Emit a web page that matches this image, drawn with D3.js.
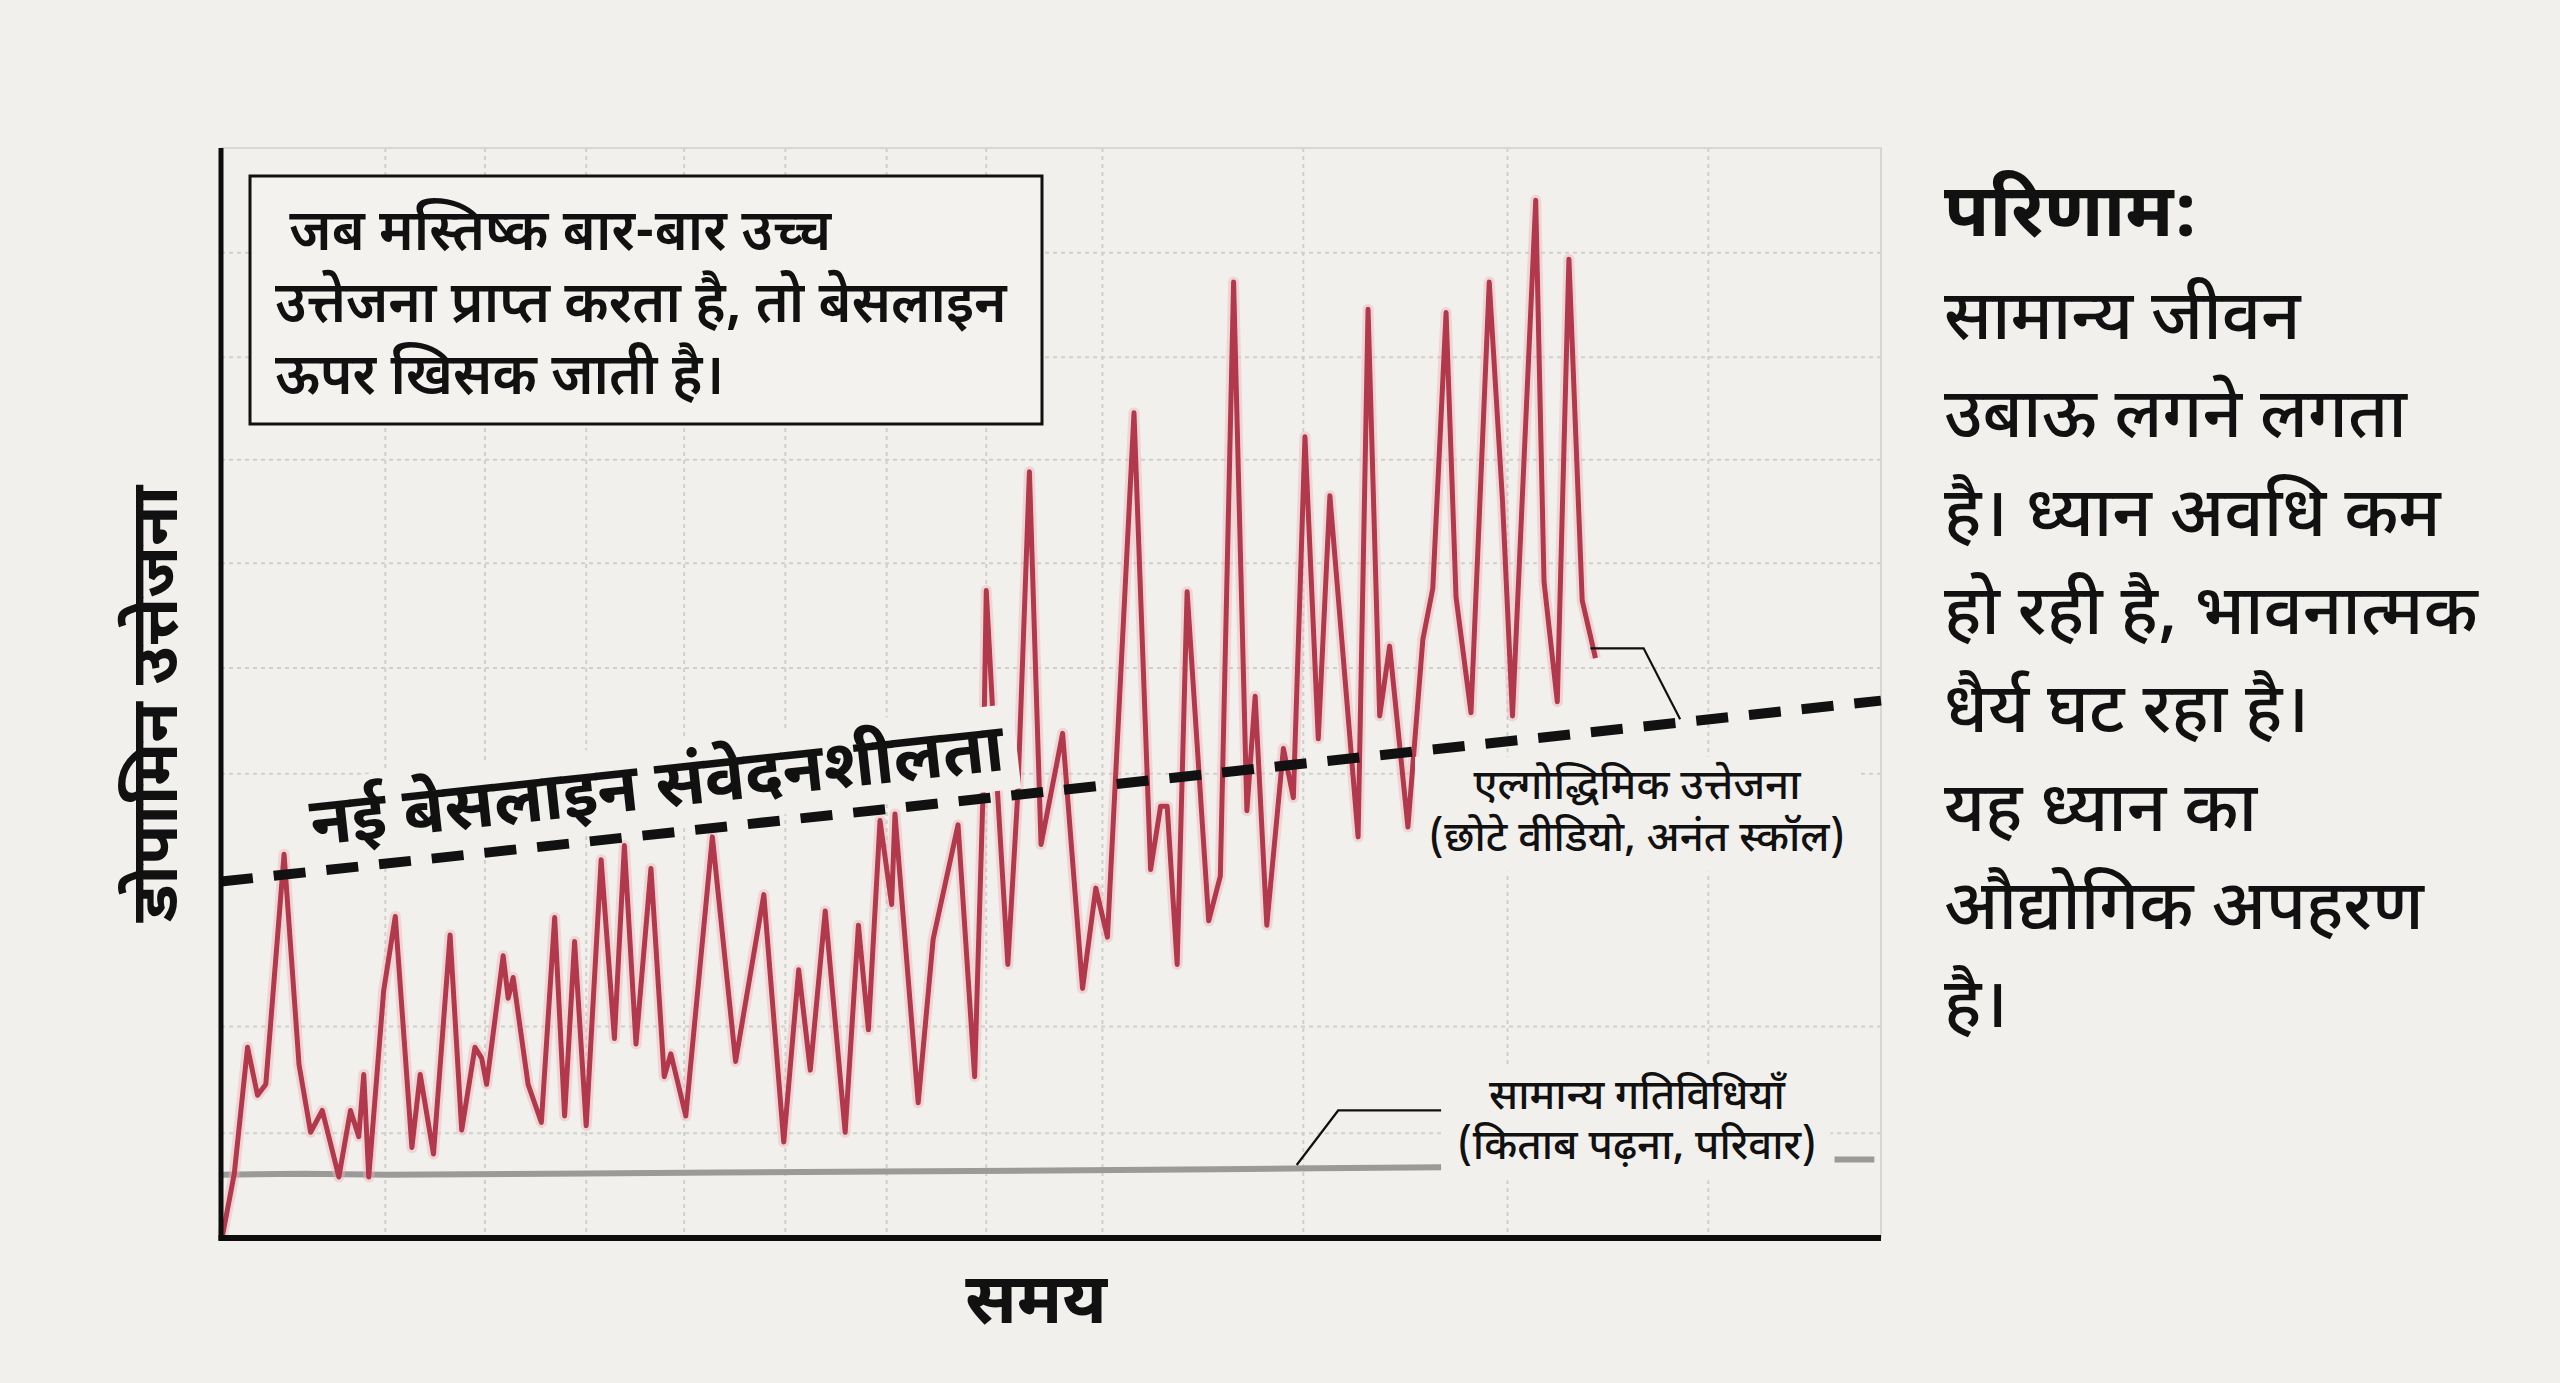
<!DOCTYPE html>
<html>
<head>
<meta charset="utf-8">
<script src="https://cdn.jsdelivr.net/npm/d3@7"></script>
<style>
  body { margin: 0; background: #f1f0ec; }
  svg text { font-family: "Noto Sans Devanagari", "Noto Sans", sans-serif; fill: #111; }
</style>
</head>
<body>
<div id="chart"></div>
<script>
// time (0-100) and excitation (0-100)
var algoTime = [0.1,0.8,1.6,2.2,2.7,3.8,4.7,5.4,6.1,7.1,
  7.8,8.3,8.6,8.9,9.8,10.5,11.5,12.0,12.8,13.8,
  14.5,15.3,15.7,16.0,17.0,17.3,17.6,18.5,19.3,20.1,
  20.7,21.3,22.0,22.9,23.7,24.3,25.0,25.9,26.7,27.1,
  28.0,29.6,31.0,32.7,33.9,34.8,35.5,36.4,37.6,38.4,
  39.0,39.7,40.4,40.6,42.0,42.9,44.4,45.4,45.9,46.1,
  46.5,47.4,48.0,48.7,49.4,50.7,51.9,52.7,53.4,55.0,
  56.0,56.6,57.0,57.6,58.2,59.5,60.2,61.0,61.8,62.3,
  63.0,64.0,64.6,65.3,66.1,66.8,68.5,69.1,69.8,70.4,
  71.5,72.4,73.0,73.8,74.4,75.3,76.4,77.2,77.8,79.2,
  79.7,80.5,81.2,82.0,82.8];
var algoValues = [0.3,5.9,17.5,13.1,14.1,35.2,15.9,9.7,11.7,5.6,
  11.7,9.3,15.0,5.6,22.7,29.5,8.3,15.0,7.7,27.8,
  9.9,17.5,16.5,14.1,25.9,22.0,23.9,14.1,10.6,29.4,
  11.2,27.2,10.3,34.7,18.3,36.0,17.8,33.9,14.8,16.9,
  11.2,36.8,16.2,31.5,8.8,24.6,15.4,30.0,9.7,28.7,
  19.1,38.3,30.6,38.9,12.4,27.4,37.9,14.8,40.6,59.4,
  48.0,25.1,40.8,70.3,36.1,46.3,22.9,32.1,27.6,75.7,
  33.8,39.6,39.6,25.1,59.3,29.1,33.2,87.7,39.2,49.7,
  28.7,44.9,40.4,73.5,45.8,68.1,36.8,85.2,47.9,54.3,
  37.7,54.9,59.6,84.9,58.8,48.2,87.7,67.6,47.9,95.2,
  60.2,49.2,89.8,58.5,53.2];

// normal activities line, null = hidden behind its label
var normalTime = [0, 5, 10, 20, 30, 40, 50, 60, 66, 73.5, 75, 97.2, 99.6];
var normalValues = [5.8, 5.9, 5.8, 5.9, 6.0, 6.1, 6.2, 6.3, 6.4, 6.5, null, 7.2, 7.2];

// new baseline (dashed)
var baselineTime = [0, 100];
var baselineValues = [32.7, 49.3];

// grid positions in data units
var gridTime = [9.9, 15.9, 22.0, 27.9, 34.0, 40.1, 46.1, 53.1, 65.2, 77.5, 89.6];
var gridValues = [9.6, 19.4, 42.6, 52.3, 61.9, 71.4, 80.8, 90.4];

// leader lines for the two labels
var algoLeaderTime = [82.5, 85.7, 87.9];
var algoLeaderValues = [54.1, 54.1, 47.6];
var normalLeaderTime = [64.8, 67.3, 73.5];
var normalLeaderValues = [6.7, 11.7, 11.7];

// texts
var yTitle = "डोपामिन उत्तेजना";
var xTitle = "समय";
var baselineLabel = "नई बेसलाइन संवेदनशीलता";
var boxLines = [" जब मस्तिष्क बार-बार उच्च", "उत्तेजना प्राप्त करता है, तो बेसलाइन", "ऊपर खिसक जाती है।"];
var algoLabel = ["एल्गोद्धिमिक उत्तेजना", "(छोटे वीडियो, अनंत स्कॉल)"];
var normalLabel = ["सामान्य गतिविधियाँ", "(किताब पढ़ना, परिवार)"];
var sideTitle = "परिणाम:";
var sideLines = ["सामान्य जीवन", "उबाऊ लगने लगता", "है। ध्यान अवधि कम", "हो रही है, भावनात्मक",
  "धैर्य घट रहा है।", "यह ध्यान का", "औद्योगिक अपहरण", "है।"];

//svg area
var svgWidth = 2560;
var svgHeight = 1383;
var bg = "#f1f0ec";

var margin = { top: 148, right: 679, bottom: 145, left: 221 };
var chartWidth = svgWidth - margin.left - margin.right;
var chartHeight = svgHeight - margin.top - margin.bottom;

var svg = d3.select("#chart").append("svg")
  .attr("width", svgWidth).attr("height", svgHeight)
  .style("display", "block");
svg.append("rect").attr("width", svgWidth).attr("height", svgHeight).attr("fill", bg);

var chartGroup = svg.append("g").attr("transform", `translate(${margin.left},${margin.top})`);

// scales
var xScale = d3.scaleLinear().domain([0, 100]).range([0, chartWidth]);
var yScale = d3.scaleLinear().domain([0, 100]).range([chartHeight, 0]);

// grid
var grid = chartGroup.append("g").attr("class", "grid")
  .attr("stroke", "#cfcfcc").attr("stroke-width", 2).attr("stroke-dasharray", "4,4");
grid.selectAll(".gx").data(gridTime).enter().append("line")
  .attr("x1", d => xScale(d)).attr("x2", d => xScale(d))
  .attr("y1", 0).attr("y2", chartHeight);
grid.selectAll(".gy").data(gridValues).enter().append("line")
  .attr("x1", 0).attr("x2", chartWidth)
  .attr("y1", d => yScale(d)).attr("y2", d => yScale(d));

// light frame top and right
chartGroup.append("path")
  .attr("d", `M0,${yScale(100)}H${xScale(100)}V${yScale(0)}`)
  .attr("fill", "none").attr("stroke", "#d6d6d3").attr("stroke-width", 2);

// lines
var line = d3.line()
  .defined(d => d[1] !== null)
  .x(d => xScale(d[0])).y(d => yScale(d[1]));

var normalData = normalTime.map((t, i) => [t, normalValues[i]]);
chartGroup.append("path").datum(normalData)
  .attr("d", line).attr("fill", "none")
  .attr("stroke", "#9a9a98").attr("stroke-width", 6);

var algoData = algoTime.map((t, i) => [t, algoValues[i]]);
chartGroup.append("path").datum(algoData)
  .attr("d", line).attr("fill", "none")
  .attr("stroke", "#f0b3bb").attr("stroke-width", 11).attr("stroke-opacity", 0.45)
  .attr("stroke-linejoin", "round");
chartGroup.append("path").datum(algoData)
  .attr("d", line).attr("fill", "none")
  .attr("stroke", "#b2394b").attr("stroke-width", 5)
  .attr("stroke-linejoin", "round");

// baseline label, rotated along the dashed line
var baseData = baselineTime.map((t, i) => [t, baselineValues[i]]);
var angle = Math.atan2(yScale(baselineValues[1]) - yScale(baselineValues[0]),
  xScale(baselineTime[1]) - xScale(baselineTime[0])) * 180 / Math.PI;
var labelT = 5.7;
var labelV = baselineValues[0] + (baselineValues[1] - baselineValues[0]) * labelT / 100;
var baseLabelGroup = chartGroup.append("g")
  .attr("transform", `translate(${xScale(labelT)},${yScale(labelV)}) rotate(${angle})`);
var baseLabelBg = baseLabelGroup.append("rect").attr("fill", bg);
var baseLabelText = baseLabelGroup.append("text")
  .attr("x", 0).attr("y", -26)
  .attr("font-size", 67).attr("font-weight", 700)
  .text(baselineLabel);
var bb = baseLabelText.node().getBBox();
baseLabelBg.attr("x", bb.x - 12).attr("y", bb.y - 4)
  .attr("width", bb.width + 24).attr("height", -bb.y - 6 + 4);

// dashed baseline on top
chartGroup.append("path").datum(baseData)
  .attr("d", line).attr("fill", "none")
  .attr("stroke", "#111").attr("stroke-width", 10)
  .attr("stroke-dasharray", "32,21");

// labels with background
function addLabel(lines, cx, top, size, gap) {
  var g = chartGroup.append("g");
  var bgRect = g.append("rect").attr("fill", bg);
  var t = g.append("text").attr("text-anchor", "middle")
    .attr("font-size", size).attr("font-weight", 500);
  lines.forEach((s, i) => {
    t.append("tspan").attr("x", cx).attr("y", top + i * gap).text(s);
  });
  var b = t.node().getBBox();
  bgRect.attr("x", b.x - 14).attr("y", b.y - 4).attr("width", b.width + 28).attr("height", b.height + 8);
}
addLabel(algoLabel, xScale(85.3), yScale(40.3), 42, 52);
addLabel(normalLabel, xScale(85.3), yScale(11.8), 42, 50);

var leader = d3.line().x(d => xScale(d[0])).y(d => yScale(d[1]));
[[algoLeaderTime, algoLeaderValues], [normalLeaderTime, normalLeaderValues]].forEach(p => {
  chartGroup.append("path")
    .datum(p[0].map((t, i) => [t, p[1][i]]))
    .attr("d", leader).attr("fill", "none")
    .attr("stroke", "#111").attr("stroke-width", 2.2);
});

// axes as plain black lines
chartGroup.append("line")
  .attr("x1", 0).attr("x2", 0).attr("y1", yScale(100)).attr("y2", yScale(0) + 2.5)
  .attr("stroke", "#0d0d0d").attr("stroke-width", 5);
chartGroup.append("line")
  .attr("x1", -2.5).attr("x2", xScale(100)).attr("y1", yScale(0)).attr("y2", yScale(0))
  .attr("stroke", "#0d0d0d").attr("stroke-width", 6);

// axis titles
svg.append("text")
  .attr("transform", `translate(177,704) rotate(-90)`)
  .attr("text-anchor", "middle")
  .attr("font-size", 66).attr("font-weight", 700)
  .text(yTitle);
svg.append("text")
  .attr("x", 1036).attr("y", 1323)
  .attr("text-anchor", "middle")
  .attr("font-size", 70).attr("font-weight", 700)
  .text(xTitle);

// text box
svg.append("rect")
  .attr("x", 250).attr("y", 176).attr("width", 792).attr("height", 248)
  .attr("fill", "#f3f2ee").attr("stroke", "#111").attr("stroke-width", 3);
var boxText = svg.append("text")
  .attr("transform", "translate(275,0) scale(0.95,1)")
  .attr("font-size", 58).attr("font-weight", 600);
boxLines.forEach((s, i) => {
  boxText.append("tspan").attr("x", 0).attr("y", 250 + i * 72).attr("xml:space", "preserve").text(s);
});

// side text
svg.append("text").attr("x", 1944).attr("y", 236)
  .attr("font-size", 74).attr("font-weight", 700).text(sideTitle);
var side = svg.append("text").attr("font-size", 69).attr("font-weight", 500);
sideLines.forEach((s, i) => {
  side.append("tspan").attr("x", 1944).attr("y", 339 + i * 98.3).text(s);
});
</script>
</body>
</html>
